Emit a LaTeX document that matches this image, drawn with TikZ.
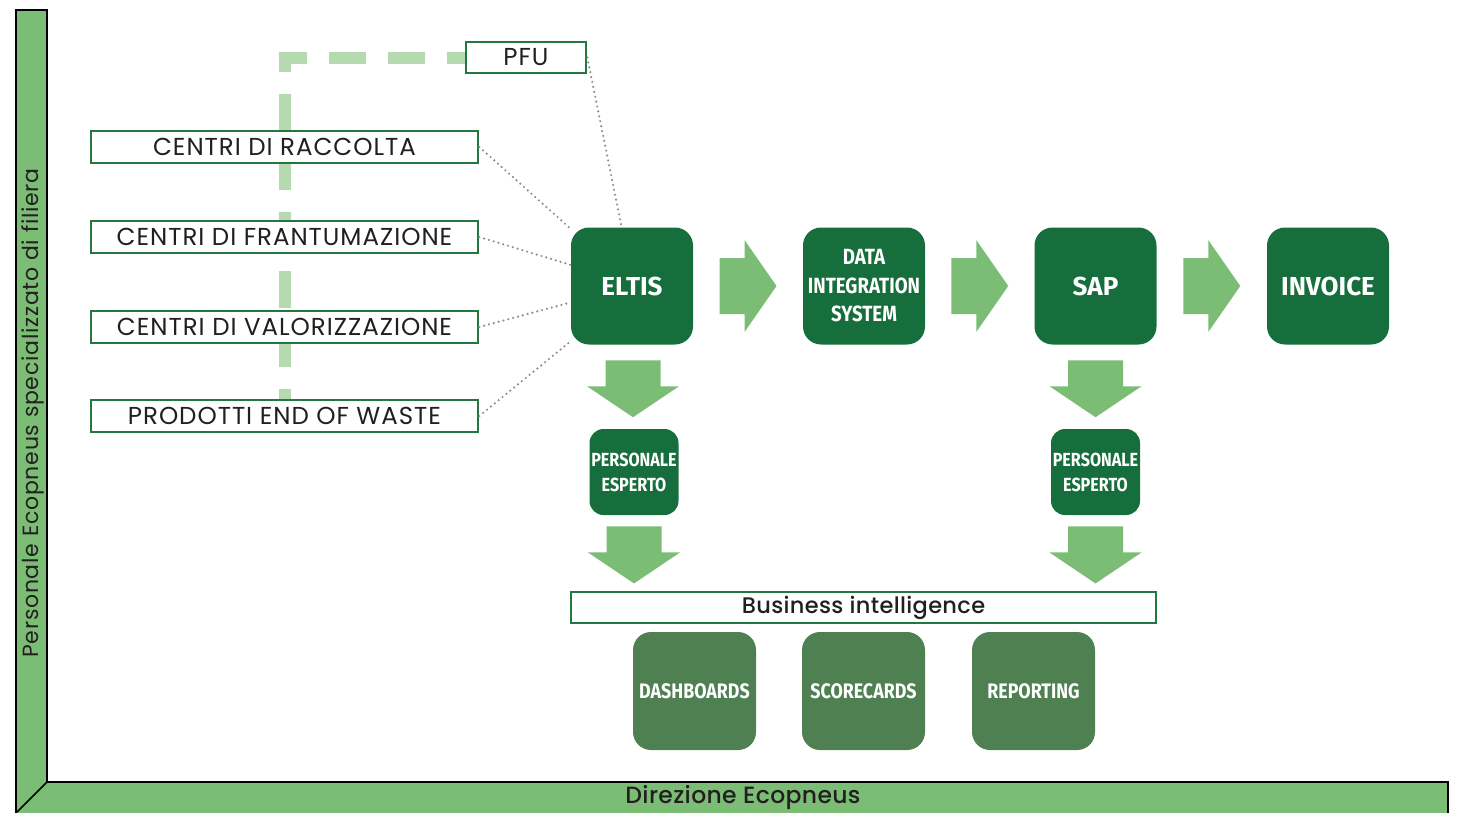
\documentclass[tikz,border=0pt]{standalone}
\usepackage{fontspec}
\setmainfont{Poppins}
\newfontfamily\labf{Poppins}[LetterSpace=4]
\newfontfamily\sidef{Poppins}[LetterSpace=3.5]
\newfontfamily\medf{Poppins}[UprightFont=* Medium, LetterSpace=1.5]
\newfontfamily\boldf{Fira Sans}
\newfontfamily\condf{Fira Sans}[FakeStretch=0.85]
\usetikzlibrary{calc,backgrounds}
\definecolor{darkg}{HTML}{166E3C}
\definecolor{midg}{HTML}{4E8052}
\definecolor{arrowc}{HTML}{7BBD75}
\definecolor{framec}{HTML}{7CBD76}
\definecolor{framed}{HTML}{257A42}
\definecolor{dashc}{HTML}{B6DAB0}
\definecolor{boxg}{HTML}{24773F}
\definecolor{dotc}{HTML}{8E8E8E}
\definecolor{txt}{HTML}{231F20}
\tikzset{
  wbox/.style={draw=boxg, line width=2.6pt, fill=white, inner sep=0pt, text=txt,
    font=\labf\fontsize{24.5}{28}\selectfont},
  gbox/.style={fill=darkg, rounded corners=18pt, text=white, align=center, inner sep=0pt,
    minimum width=122pt, minimum height=117pt},
  pbox/.style={fill=darkg, rounded corners=14pt, text=white, align=center, inner sep=0pt,
    minimum width=89pt, minimum height=86pt, font={\condf\bfseries\fontsize{19}{25}\selectfont}},
  mbox/.style={fill=midg, rounded corners=18pt, text=white, align=center, inner sep=0pt,
    minimum width=123pt, minimum height=118pt, font={\condf\bfseries\fontsize{21}{25}\selectfont}},
  bigf/.style={font={\boldf\bfseries\fontsize{26}{30}\selectfont}},
  dotl/.style={draw=dotc, line width=2.4pt, line cap=round, dash pattern=on 0pt off 5pt},
  dashl/.style={draw=dashc, line width=12pt, dash pattern=on 37pt off 22pt, dash phase=19pt},
  rarrow/.pic={\fill[arrowc] (-28.5,-28)--(-3.5,-28)--(-3.5,-46)--(28.5,0)--(-3.5,46)--(-3.5,28)--(-28.5,28)--cycle;},
  darrow/.pic={\fill[arrowc] (-27.5,-28.5)--(27.5,-28.5)--(27.5,-2.5)--(46,-2.5)--(0,28.5)--(-46,-2.5)--(-27.5,-2.5)--cycle;}
}
\begin{document}
\begin{tikzpicture}[x=1pt,y=-1pt]
\useasboundingbox (0,0) rectangle (1461,812);
% frame
\fill[framec] (16,814)--(16,10)--(47,10)--(47,782)--(1448,782)--(1448,814)--cycle;
\draw[framed, line width=2pt] (16,814)--(16,10)--(47,10)--(47,782)--(1448,782)--(1448,814);
\draw[framed, line width=1.5pt] (47,782)--(17,812);
\node[rotate=90, text=txt, font=\sidef\fontsize{22}{25}\selectfont] (side) at (32.5,413) {Personale Ecopneus specializzato di filiera};
\node[text=txt, font=\medf\fontsize{23.5}{26}\selectfont] (dir) at (743,798) {Direzione Ecopneus};

% left boxes
\node[wbox, minimum width=120pt, minimum height=31pt] (pfu) at (526,57.5) {PFU};
\node[wbox, minimum width=387pt, minimum height=32pt] (rac) at (284.5,147) {CENTRI DI RACCOLTA};
\node[wbox, minimum width=387pt, minimum height=32pt] (fra) at (284.5,237) {CENTRI DI FRANTUMAZIONE};
\node[wbox, minimum width=387pt, minimum height=32pt] (val) at (284.5,327) {CENTRI DI VALORIZZAZIONE};
\node[wbox, minimum width=387pt, minimum height=32pt] (pew) at (284.5,416) {PRODOTTI END OF WASTE};

% main flow
\node[gbox, bigf] (eltis) at (632,286) {ELTIS};
\node[gbox, font={\condf\bfseries\fontsize{22}{28.5}\selectfont}] (dis) at (864,286) {DATA\\INTEGRATION\\SYSTEM};
\node[gbox, bigf] (sap) at (1095.5,286) {SAP};
\node[gbox, bigf] (inv) at (1328,286) {INVOICE};

\node[pbox] (pe1) at (634,472) {PERSONALE\\ESPERTO};
\node[pbox] (pe2) at (1095.5,472) {PERSONALE\\ESPERTO};

\node[wbox, minimum width=585pt, minimum height=31pt, font=\medf\fontsize{22.5}{25}\selectfont] (bi) at (863.5,607.5) {Business intelligence};
\node[mbox] (dash) at (694.5,691) {DASHBOARDS};
\node[mbox] (score) at (863.5,691) {SCORECARDS};
\node[mbox] (rep) at (1033.5,691) {REPORTING};

% dashed line behind boxes
\begin{scope}[on background layer]
\draw[dashl] (pfu.west) -| (pew.north);
\end{scope}

% dotted connectors
\draw[dotl] (pfu.east) -- (eltis.100.7);
\draw[dotl] (rac.east) -- (eltis.137.5);
\draw[dotl] (fra.east) -- (eltis.161.8);
\draw[dotl] (val.east) -- (eltis.195.6);
\draw[dotl] (pew.east) -- (eltis.222.5);

% block arrows
\pic at ($(eltis.east)!0.5!(dis.west)$) {rarrow};
\pic at ($(dis.east)!0.5!(sap.west)$) {rarrow};
\pic at ($(sap.east)!0.5!(inv.west)$) {rarrow};
\pic at ($(eltis.south)!0.5!(pe1.north)+(0,2)$) {darrow};
\pic at ($(pe1.south)!0.5!(pe1.south |- bi.north)+(0,2)$) {darrow};
\pic at ($(sap.south)!0.5!(pe2.north)+(0,2)$) {darrow};
\pic at ($(pe2.south)!0.5!(pe2.south |- bi.north)+(0,2)$) {darrow};
\end{tikzpicture}
\end{document}
